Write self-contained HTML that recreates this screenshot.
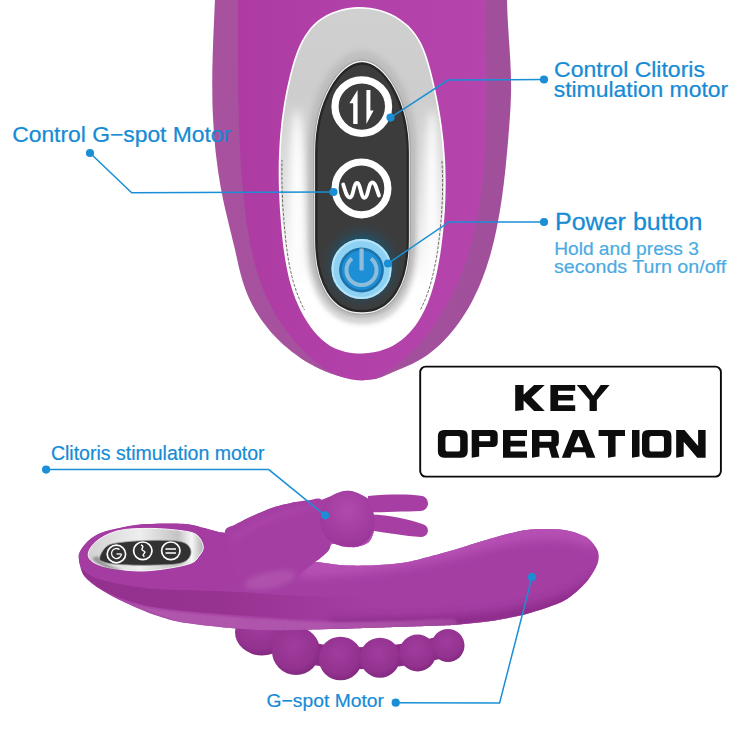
<!DOCTYPE html>
<html><head><meta charset="utf-8"><style>
html,body{margin:0;padding:0;background:#fff;}
body{width:750px;height:750px;position:relative;overflow:hidden;font-family:"Liberation Sans",sans-serif;}
svg{position:absolute;left:0;top:0;display:block;}
</style></head><body>
<svg width="750" height="750" viewBox="0 0 750 750">
<defs>
<linearGradient id="silver" x1="0" y1="0" x2="0" y2="1"><stop offset="0" stop-color="#d0d0d0"/><stop offset="0.25" stop-color="#cdcdcd"/><stop offset="0.55" stop-color="#e2e2e2"/><stop offset="0.8" stop-color="#ffffff"/><stop offset="1" stop-color="#ffffff"/></linearGradient>
<linearGradient id="silverSide" x1="0" y1="0" x2="1" y2="0"><stop offset="0" stop-color="#ffffff" stop-opacity="0"/><stop offset="0.1" stop-color="#ffffff" stop-opacity="0.95"/><stop offset="0.2" stop-color="#b0b0b0" stop-opacity="0.5"/><stop offset="0.3" stop-color="#ffffff" stop-opacity="0"/><stop offset="0.7" stop-color="#ffffff" stop-opacity="0"/><stop offset="0.8" stop-color="#b0b0b0" stop-opacity="0.5"/><stop offset="0.9" stop-color="#ffffff" stop-opacity="0.95"/><stop offset="1" stop-color="#ffffff" stop-opacity="0"/></linearGradient>
<linearGradient id="sideMask" x1="0" y1="0" x2="0" y2="1"><stop offset="0" stop-color="#fff" stop-opacity="0"/><stop offset="0.3" stop-color="#fff" stop-opacity="1"/><stop offset="0.7" stop-color="#fff" stop-opacity="1"/><stop offset="0.85" stop-color="#fff" stop-opacity="0"/></linearGradient>
<mask id="sm"><rect x="0" y="0" width="750" height="400" fill="url(#sideMask)"/></mask>
<radialGradient id="glow" cx="0.5" cy="0.5" r="0.5"><stop offset="0.55" stop-color="#1d5570"/><stop offset="1" stop-color="#3c3c3c" stop-opacity="0"/></radialGradient>
<linearGradient id="shaftG" x1="0" y1="0" x2="0" y2="1"><stop offset="0" stop-color="#a7419f"/><stop offset="0.4" stop-color="#a43c9f"/><stop offset="1" stop-color="#8c2d8a"/></linearGradient>
<linearGradient id="frontG" x1="0" y1="0" x2="0" y2="1"><stop offset="0" stop-color="#9f3a9c"/><stop offset="1" stop-color="#8e2f8b"/></linearGradient>
<radialGradient id="bead" cx="0.45" cy="0.38" r="0.68"><stop offset="0" stop-color="#a03c9e"/><stop offset="0.7" stop-color="#93328f"/><stop offset="1" stop-color="#7c267a"/></radialGradient>
<radialGradient id="headG" cx="0.5" cy="0.35" r="0.7"><stop offset="0" stop-color="#b04aad"/><stop offset="1" stop-color="#9a3598"/></radialGradient>
<filter id="blur4" x="-1" y="-1" width="3" height="3"><feGaussianBlur stdDeviation="4"/></filter>
<filter id="blur3" x="-0.5" y="-0.5" width="2" height="2"><feGaussianBlur stdDeviation="2.5"/></filter>
<filter id="blur1" x="-0.5" y="-0.5" width="2" height="2"><feGaussianBlur stdDeviation="1"/></filter>
</defs>
<defs><linearGradient id="bandG" gradientUnits="userSpaceOnUse" x1="212" y1="0" x2="511" y2="0"><stop offset="0" stop-color="#a8529f"/><stop offset="1" stop-color="#a04f9b"/></linearGradient></defs>
<path d="M507.0,-2.0 L507.1,3.6 L507.3,9.3 L507.5,15.0 L507.8,20.6 L508.1,26.3 L508.5,31.9 L508.8,37.6 L509.2,43.2 L509.6,48.9 L509.9,54.6 L510.3,60.2 L510.5,65.9 L510.8,71.5 L510.9,77.2 L511.0,82.9 L511.1,88.5 L511.0,94.2 L510.8,99.8 L510.6,105.5 L510.3,111.1 L509.9,116.8 L509.5,122.4 L509.1,128.1 L508.6,133.7 L508.2,139.4 L507.7,145.0 L507.2,150.6 L506.7,156.3 L506.1,161.9 L505.6,167.6 L505.0,173.2 L504.3,178.8 L503.7,184.4 L502.9,190.1 L502.2,195.7 L501.4,201.3 L500.5,206.9 L499.6,212.5 L498.6,218.1 L497.6,223.6 L496.5,229.2 L495.3,234.8 L494.1,240.3 L492.7,245.8 L491.3,251.3 L489.8,256.7 L488.1,262.1 L486.4,267.5 L484.5,272.8 L482.6,278.1 L480.5,283.3 L478.3,288.5 L475.9,293.6 L473.4,298.7 L470.8,303.7 L468.0,308.7 L465.0,313.5 L461.9,318.3 L458.7,323.0 L455.3,327.6 L451.7,332.0 L448.0,336.3 L444.1,340.5 L440.1,344.5 L435.9,348.2 L431.6,351.8 L427.1,355.2 L422.4,358.3 L417.6,361.1 L412.6,363.7 L407.4,366.1 L402.2,368.3 L396.8,370.5 L391.6,372.7 L386.4,375.1 L381.2,377.3 L375.8,378.9 L370.3,379.7 L364.6,379.8 L358.9,379.6 L353.3,379.0 L347.7,378.1 L342.2,376.9 L336.7,375.4 L331.4,373.7 L326.1,371.7 L320.9,369.4 L315.7,367.0 L310.7,364.3 L305.8,361.4 L301.0,358.4 L296.4,355.1 L291.8,351.7 L287.4,348.1 L283.1,344.4 L279.0,340.6 L275.0,336.5 L271.2,332.4 L267.6,328.1 L264.1,323.6 L260.8,319.0 L257.7,314.3 L254.8,309.5 L252.1,304.5 L249.6,299.4 L247.3,294.2 L245.3,288.9 L243.4,283.5 L241.7,278.1 L240.2,272.6 L238.9,267.2 L237.6,261.6 L236.4,256.1 L235.2,250.6 L233.9,245.1 L232.5,239.6 L231.2,234.1 L229.8,228.6 L228.5,223.1 L227.2,217.6 L225.9,212.1 L224.6,206.6 L223.4,201.1 L222.3,195.6 L221.2,190.0 L220.2,184.4 L219.3,178.8 L218.4,173.2 L217.6,167.6 L216.9,162.0 L216.2,156.4 L215.5,150.7 L215.0,145.1 L214.5,139.4 L214.0,133.8 L213.6,128.1 L213.3,122.5 L213.0,116.8 L212.7,111.1 L212.5,105.5 L212.4,99.8 L212.3,94.1 L212.3,88.5 L212.2,82.8 L212.3,77.2 L212.3,71.5 L212.4,65.9 L212.6,60.2 L212.7,54.6 L212.9,48.9 L213.1,43.3 L213.3,37.6 L213.5,32.0 L213.8,26.3 L214.0,20.7 L214.3,15.0 L214.5,9.3 L214.8,3.7 L215.0,-2.0Z" fill="url(#bandG)"/>
<defs><linearGradient id="faceG" gradientUnits="userSpaceOnUse" x1="238" y1="0" x2="486" y2="0"><stop offset="0" stop-color="#ad3ba2"/><stop offset="0.45" stop-color="#b140a8"/><stop offset="1" stop-color="#b545ac"/></linearGradient></defs>
<path d="M485.9,-1.9 L485.9,3.4 L485.8,8.6 L485.8,13.9 L485.8,19.3 L485.9,24.6 L485.9,30.0 L485.9,35.4 L486.0,40.8 L486.0,46.2 L486.1,51.6 L486.2,57.1 L486.2,62.5 L486.3,68.0 L486.3,73.5 L486.4,78.9 L486.4,84.4 L486.4,89.9 L486.4,95.4 L486.4,101.0 L486.3,106.5 L486.3,112.0 L486.2,117.5 L486.1,123.0 L485.9,128.5 L485.7,134.1 L485.5,139.6 L485.3,145.1 L485.0,150.6 L484.6,156.1 L484.3,161.6 L483.8,167.0 L483.3,172.5 L482.8,177.9 L482.2,183.4 L481.6,188.8 L480.9,194.2 L480.1,199.6 L479.3,205.0 L478.4,210.3 L477.4,215.7 L476.4,221.0 L475.3,226.3 L474.1,231.5 L472.8,236.8 L471.5,242.0 L470.0,247.2 L468.5,252.4 L466.9,257.5 L465.2,262.6 L463.4,267.7 L461.5,272.7 L459.5,277.7 L457.4,282.7 L455.3,287.6 L453.0,292.5 L450.6,297.4 L448.0,302.2 L445.4,307.0 L442.7,311.7 L439.8,316.4 L436.9,321.0 L433.8,325.6 L430.5,330.1 L427.2,334.5 L423.8,338.9 L420.2,343.1 L416.5,347.2 L412.7,351.2 L408.8,355.0 L404.7,358.7 L400.5,362.2 L396.3,365.5 L391.9,368.6 L387.4,371.6 L382.7,374.2 L377.9,376.6 L373.0,378.5 L367.9,379.8 L362.6,380.4 L357.1,380.2 L351.6,379.5 L346.2,378.3 L341.0,376.7 L336.0,374.7 L331.1,372.4 L326.4,369.7 L321.8,366.8 L317.5,363.6 L313.2,360.1 L309.1,356.5 L305.1,352.7 L301.3,348.8 L297.6,344.7 L294.0,340.5 L290.5,336.3 L287.1,331.9 L283.9,327.5 L280.8,323.0 L277.9,318.4 L275.1,313.8 L272.4,309.0 L269.9,304.3 L267.6,299.4 L265.4,294.5 L263.3,289.5 L261.3,284.4 L259.5,279.4 L257.8,274.2 L256.2,269.0 L254.8,263.8 L253.4,258.6 L252.2,253.3 L251.0,247.9 L249.9,242.6 L248.9,237.2 L248.0,231.8 L247.1,226.4 L246.3,221.0 L245.6,215.5 L244.9,210.1 L244.3,204.6 L243.7,199.2 L243.2,193.8 L242.7,188.3 L242.2,182.9 L241.7,177.4 L241.3,172.0 L241.0,166.6 L240.6,161.1 L240.3,155.7 L240.0,150.3 L239.7,144.9 L239.5,139.4 L239.3,134.0 L239.1,128.6 L238.9,123.2 L238.7,117.7 L238.6,112.3 L238.5,106.9 L238.4,101.5 L238.3,96.0 L238.2,90.6 L238.2,85.2 L238.1,79.7 L238.1,74.3 L238.1,68.9 L238.0,63.4 L238.0,58.0 L238.0,52.6 L238.0,47.1 L238.0,41.7 L238.0,36.2 L238.0,30.8 L238.0,25.3 L238.0,19.8 L238.0,14.4 L238.0,8.9 L238.0,3.4 L238.0,-2.0Z" fill="url(#faceG)"/>
<defs><clipPath id="innerClip"><path d="M359.0,7.8 L364.4,8.0 L369.9,8.5 L375.2,9.5 L380.5,10.8 L385.6,12.5 L390.5,14.6 L395.3,17.0 L399.8,19.8 L404.0,23.0 L408.0,26.4 L411.6,30.2 L414.9,34.4 L417.8,38.8 L420.4,43.4 L422.7,48.3 L424.7,53.4 L426.5,58.6 L428.1,63.9 L429.6,69.3 L431.0,74.6 L432.3,80.0 L433.5,85.3 L434.7,90.6 L435.8,95.8 L436.8,101.0 L437.8,106.2 L438.7,111.4 L439.6,116.6 L440.3,121.7 L441.1,126.9 L441.7,132.0 L442.3,137.1 L442.9,142.3 L443.3,147.4 L443.7,152.5 L444.1,157.7 L444.4,162.8 L444.6,167.9 L444.7,173.1 L444.8,178.3 L444.9,183.5 L444.8,188.7 L444.7,194.0 L444.6,199.2 L444.3,204.5 L444.1,209.9 L443.7,215.2 L443.3,220.7 L442.8,226.1 L442.3,231.6 L441.7,237.1 L441.0,242.7 L440.3,248.3 L439.5,254.0 L438.5,259.6 L437.5,265.2 L436.4,270.8 L435.2,276.3 L433.8,281.7 L432.3,287.1 L430.7,292.4 L428.9,297.5 L427.0,302.6 L424.9,307.4 L422.6,312.2 L420.2,316.7 L417.5,321.0 L414.7,325.2 L411.6,329.1 L408.4,332.8 L404.9,336.2 L401.1,339.3 L397.2,342.2 L393.0,344.7 L388.5,346.9 L383.7,348.8 L378.7,350.4 L373.5,351.5 L368.0,352.3 L362.4,352.7 L356.8,352.6 L351.3,352.1 L345.8,351.1 L340.4,349.6 L335.4,347.7 L330.6,345.2 L326.2,342.2 L322.0,338.7 L318.2,334.9 L314.7,330.9 L311.4,326.7 L308.4,322.3 L305.6,317.9 L303.0,313.3 L300.6,308.6 L298.4,303.8 L296.3,298.9 L294.5,294.0 L292.8,288.9 L291.3,283.8 L289.9,278.7 L288.7,273.4 L287.6,268.1 L286.6,262.8 L285.7,257.5 L284.9,252.1 L284.1,246.7 L283.5,241.3 L282.9,235.9 L282.4,230.5 L281.9,225.0 L281.5,219.7 L281.1,214.3 L280.7,208.9 L280.4,203.6 L280.1,198.2 L279.9,192.9 L279.7,187.6 L279.6,182.3 L279.5,177.0 L279.5,171.7 L279.5,166.4 L279.6,161.2 L279.8,155.9 L280.0,150.6 L280.3,145.4 L280.6,140.1 L281.0,134.9 L281.5,129.6 L282.0,124.3 L282.6,119.1 L283.3,113.8 L284.1,108.6 L284.9,103.3 L285.8,98.0 L286.8,92.8 L287.9,87.5 L289.1,82.2 L290.3,76.9 L291.6,71.6 L293.1,66.3 L294.6,61.1 L296.3,55.9 L298.2,50.9 L300.3,45.9 L302.6,41.2 L305.2,36.7 L308.1,32.4 L311.2,28.3 L314.7,24.6 L318.6,21.2 L322.9,18.2 L327.4,15.5 L332.3,13.3 L337.3,11.4 L342.6,9.9 L348.0,8.8 L353.5,8.1 L359.0,7.8Z"/></clipPath></defs>
<path d="M359.0,7.8 L364.4,8.0 L369.9,8.5 L375.2,9.5 L380.5,10.8 L385.6,12.5 L390.5,14.6 L395.3,17.0 L399.8,19.8 L404.0,23.0 L408.0,26.4 L411.6,30.2 L414.9,34.4 L417.8,38.8 L420.4,43.4 L422.7,48.3 L424.7,53.4 L426.5,58.6 L428.1,63.9 L429.6,69.3 L431.0,74.6 L432.3,80.0 L433.5,85.3 L434.7,90.6 L435.8,95.8 L436.8,101.0 L437.8,106.2 L438.7,111.4 L439.6,116.6 L440.3,121.7 L441.1,126.9 L441.7,132.0 L442.3,137.1 L442.9,142.3 L443.3,147.4 L443.7,152.5 L444.1,157.7 L444.4,162.8 L444.6,167.9 L444.7,173.1 L444.8,178.3 L444.9,183.5 L444.8,188.7 L444.7,194.0 L444.6,199.2 L444.3,204.5 L444.1,209.9 L443.7,215.2 L443.3,220.7 L442.8,226.1 L442.3,231.6 L441.7,237.1 L441.0,242.7 L440.3,248.3 L439.5,254.0 L438.5,259.6 L437.5,265.2 L436.4,270.8 L435.2,276.3 L433.8,281.7 L432.3,287.1 L430.7,292.4 L428.9,297.5 L427.0,302.6 L424.9,307.4 L422.6,312.2 L420.2,316.7 L417.5,321.0 L414.7,325.2 L411.6,329.1 L408.4,332.8 L404.9,336.2 L401.1,339.3 L397.2,342.2 L393.0,344.7 L388.5,346.9 L383.7,348.8 L378.7,350.4 L373.5,351.5 L368.0,352.3 L362.4,352.7 L356.8,352.6 L351.3,352.1 L345.8,351.1 L340.4,349.6 L335.4,347.7 L330.6,345.2 L326.2,342.2 L322.0,338.7 L318.2,334.9 L314.7,330.9 L311.4,326.7 L308.4,322.3 L305.6,317.9 L303.0,313.3 L300.6,308.6 L298.4,303.8 L296.3,298.9 L294.5,294.0 L292.8,288.9 L291.3,283.8 L289.9,278.7 L288.7,273.4 L287.6,268.1 L286.6,262.8 L285.7,257.5 L284.9,252.1 L284.1,246.7 L283.5,241.3 L282.9,235.9 L282.4,230.5 L281.9,225.0 L281.5,219.7 L281.1,214.3 L280.7,208.9 L280.4,203.6 L280.1,198.2 L279.9,192.9 L279.7,187.6 L279.6,182.3 L279.5,177.0 L279.5,171.7 L279.5,166.4 L279.6,161.2 L279.8,155.9 L280.0,150.6 L280.3,145.4 L280.6,140.1 L281.0,134.9 L281.5,129.6 L282.0,124.3 L282.6,119.1 L283.3,113.8 L284.1,108.6 L284.9,103.3 L285.8,98.0 L286.8,92.8 L287.9,87.5 L289.1,82.2 L290.3,76.9 L291.6,71.6 L293.1,66.3 L294.6,61.1 L296.3,55.9 L298.2,50.9 L300.3,45.9 L302.6,41.2 L305.2,36.7 L308.1,32.4 L311.2,28.3 L314.7,24.6 L318.6,21.2 L322.9,18.2 L327.4,15.5 L332.3,13.3 L337.3,11.4 L342.6,9.9 L348.0,8.8 L353.5,8.1 L359.0,7.8Z" fill="url(#silver)"/>
<g clip-path="url(#innerClip)">
<ellipse cx="297" cy="195" rx="7" ry="85" fill="#ffffff" filter="url(#blur4)"/>
<ellipse cx="432" cy="195" rx="6" ry="85" fill="#ffffff" filter="url(#blur4)"/>
<path d="M362,61.5 C384,61.5 409,100 409,152 L409,240 C409,285 392,313 362,313 C332,313 315,285 315,240 L315,152 C315,100 340,61.5 362,61.5 Z" fill="none" stroke="#b8b8b8" stroke-width="6" opacity="0.7" filter="url(#blur3)" transform="translate(362 188) scale(1.1 1.06) translate(-362 -188)"/>
</g>
<path d="M359.0,7.8 L364.4,8.0 L369.9,8.5 L375.2,9.5 L380.5,10.8 L385.6,12.5 L390.5,14.6 L395.3,17.0 L399.8,19.8 L404.0,23.0 L408.0,26.4 L411.6,30.2 L414.9,34.4 L417.8,38.8 L420.4,43.4 L422.7,48.3 L424.7,53.4 L426.5,58.6 L428.1,63.9 L429.6,69.3 L431.0,74.6 L432.3,80.0 L433.5,85.3 L434.7,90.6 L435.8,95.8 L436.8,101.0 L437.8,106.2 L438.7,111.4 L439.6,116.6 L440.3,121.7 L441.1,126.9 L441.7,132.0 L442.3,137.1 L442.9,142.3 L443.3,147.4 L443.7,152.5 L444.1,157.7 L444.4,162.8 L444.6,167.9 L444.7,173.1 L444.8,178.3 L444.9,183.5 L444.8,188.7 L444.7,194.0 L444.6,199.2 L444.3,204.5 L444.1,209.9 L443.7,215.2 L443.3,220.7 L442.8,226.1 L442.3,231.6 L441.7,237.1 L441.0,242.7 L440.3,248.3 L439.5,254.0 L438.5,259.6 L437.5,265.2 L436.4,270.8 L435.2,276.3 L433.8,281.7 L432.3,287.1 L430.7,292.4 L428.9,297.5 L427.0,302.6 L424.9,307.4 L422.6,312.2 L420.2,316.7 L417.5,321.0 L414.7,325.2 L411.6,329.1 L408.4,332.8 L404.9,336.2 L401.1,339.3 L397.2,342.2 L393.0,344.7 L388.5,346.9 L383.7,348.8 L378.7,350.4 L373.5,351.5 L368.0,352.3 L362.4,352.7 L356.8,352.6 L351.3,352.1 L345.8,351.1 L340.4,349.6 L335.4,347.7 L330.6,345.2 L326.2,342.2 L322.0,338.7 L318.2,334.9 L314.7,330.9 L311.4,326.7 L308.4,322.3 L305.6,317.9 L303.0,313.3 L300.6,308.6 L298.4,303.8 L296.3,298.9 L294.5,294.0 L292.8,288.9 L291.3,283.8 L289.9,278.7 L288.7,273.4 L287.6,268.1 L286.6,262.8 L285.7,257.5 L284.9,252.1 L284.1,246.7 L283.5,241.3 L282.9,235.9 L282.4,230.5 L281.9,225.0 L281.5,219.7 L281.1,214.3 L280.7,208.9 L280.4,203.6 L280.1,198.2 L279.9,192.9 L279.7,187.6 L279.6,182.3 L279.5,177.0 L279.5,171.7 L279.5,166.4 L279.6,161.2 L279.8,155.9 L280.0,150.6 L280.3,145.4 L280.6,140.1 L281.0,134.9 L281.5,129.6 L282.0,124.3 L282.6,119.1 L283.3,113.8 L284.1,108.6 L284.9,103.3 L285.8,98.0 L286.8,92.8 L287.9,87.5 L289.1,82.2 L290.3,76.9 L291.6,71.6 L293.1,66.3 L294.6,61.1 L296.3,55.9 L298.2,50.9 L300.3,45.9 L302.6,41.2 L305.2,36.7 L308.1,32.4 L311.2,28.3 L314.7,24.6 L318.6,21.2 L322.9,18.2 L327.4,15.5 L332.3,13.3 L337.3,11.4 L342.6,9.9 L348.0,8.8 L353.5,8.1 L359.0,7.8Z" fill="none" stroke="#ffffff" stroke-width="1.6"/>
<defs><clipPath id="sideClip"><rect x="0" y="160" width="750" height="150"/></clipPath></defs>
<path d="M359.0,13.0 L364.4,13.2 L369.6,13.7 L374.8,14.6 L379.9,15.9 L384.9,17.6 L389.7,19.6 L394.3,22.0 L398.7,24.7 L402.8,27.8 L406.7,31.2 L410.2,34.9 L413.4,38.9 L416.2,43.2 L418.7,47.7 L421.0,52.5 L422.9,57.4 L424.7,62.5 L426.3,67.6 L427.7,72.8 L429.0,78.0 L430.3,83.2 L431.5,88.4 L432.6,93.5 L433.7,98.6 L434.7,103.7 L435.7,108.7 L436.6,113.8 L437.4,118.8 L438.2,123.8 L438.9,128.8 L439.5,133.8 L440.1,138.7 L440.6,143.7 L441.1,148.7 L441.5,153.7 L441.8,158.7 L442.1,163.7 L442.3,168.7 L442.5,173.7 L442.6,178.7 L442.6,183.8 L442.5,188.8 L442.5,193.9 L442.3,199.1 L442.1,204.2 L441.8,209.4 L441.5,214.6 L441.1,219.9 L440.6,225.2 L440.1,230.5 L439.5,235.9 L438.8,241.4 L438.1,246.8 L437.3,252.3 L436.4,257.8 L435.4,263.2 L434.3,268.6 L433.1,274.0 L431.8,279.3 L430.4,284.5 L428.8,289.7 L427.0,294.7 L425.2,299.6 L423.1,304.3 L420.9,308.9 L418.5,313.3 L415.9,317.6 L413.2,321.6 L410.2,325.4 L407.0,328.9 L403.6,332.3 L400.0,335.3 L396.2,338.1 L392.1,340.5 L387.7,342.7 L383.1,344.5 L378.3,346.0 L373.2,347.1 L367.9,347.8 L362.5,348.2 L357.1,348.1 L351.6,347.6 L346.3,346.6 L341.2,345.2 L336.2,343.3 L331.5,340.9 L327.2,338.0 L323.2,334.6 L319.5,331.0 L316.0,327.1 L312.8,323.0 L309.8,318.8 L307.1,314.5 L304.5,310.1 L302.2,305.5 L300.1,300.9 L298.1,296.1 L296.3,291.3 L294.7,286.4 L293.2,281.4 L291.9,276.4 L290.7,271.3 L289.6,266.2 L288.6,261.0 L287.8,255.8 L287.0,250.5 L286.3,245.2 L285.7,240.0 L285.2,234.7 L284.7,229.4 L284.2,224.2 L283.8,218.9 L283.4,213.7 L283.0,208.5 L282.7,203.3 L282.5,198.1 L282.3,192.9 L282.1,187.7 L282.0,182.6 L281.9,177.4 L281.9,172.3 L281.9,167.2 L282.0,162.1 L282.1,156.9 L282.3,151.8 L282.6,146.7 L282.9,141.6 L283.3,136.5 L283.7,131.4 L284.3,126.3 L284.8,121.2 L285.5,116.1 L286.2,111.0 L287.0,105.9 L287.9,100.8 L288.9,95.7 L289.9,90.5 L291.1,85.4 L292.3,80.3 L293.6,75.1 L295.0,70.0 L296.5,64.9 L298.2,59.9 L300.0,54.9 L302.0,50.2 L304.3,45.5 L306.8,41.1 L309.6,36.9 L312.7,33.0 L316.1,29.4 L319.9,26.1 L324.0,23.1 L328.4,20.6 L333.1,18.3 L338.1,16.5 L343.2,15.0 L348.4,14.0 L353.7,13.3 L359.0,13.0Z" fill="none" stroke="#333" stroke-width="1" opacity="0.7" stroke-dasharray="3 1.5" clip-path="url(#sideClip)"/>
<path d="M362,61.5 C384,61.5 409,100 409,152 L409,240 C409,285 392,313 362,313 C332,313 315,285 315,240 L315,152 C315,100 340,61.5 362,61.5 Z" fill="none" stroke="#bdbdbd" stroke-width="11" filter="url(#blur1)"/>
<path d="M362,61.5 C384,61.5 409,100 409,152 L409,240 C409,285 392,313 362,313 C332,313 315,285 315,240 L315,152 C315,100 340,61.5 362,61.5 Z" fill="#3c3c3c" stroke="#a9a9a9" stroke-width="4"/>
<path d="M362,61.5 C384,61.5 409,100 409,152 L409,240 C409,285 392,313 362,313 C332,313 315,285 315,240 L315,152 C315,100 340,61.5 362,61.5 Z" fill="none" stroke="#f4f4f4" stroke-width="1.3"/>
<path d="M362,61.5 C384,61.5 409,100 409,152 L409,240 C409,285 392,313 362,313 C332,313 315,285 315,240 L315,152 C315,100 340,61.5 362,61.5 Z" fill="none" stroke="#262626" stroke-width="2.5" transform="translate(362 188) scale(0.972 0.985) translate(-362 -188)"/>
<ellipse cx="362" cy="266" rx="44" ry="46" fill="url(#glow)"/>
<circle cx="361.8" cy="106.6" r="26.8" fill="none" stroke="#fff" stroke-width="7.2"/>
<path d="M357.6,90 L357.6,124 L353.2,124 L353.2,103.3 L349.4,103.3 Z" fill="#fff"/>
<path d="M366.4,90 L370.4,90 L370.4,110.6 L373.6,110.6 L366.4,124 Z" fill="#fff"/>
<circle cx="361.5" cy="188.4" r="26.4" fill="none" stroke="#fff" stroke-width="7.2"/>
<path d="M343.2,184.5 C345.5,192 346.8,197.5 349.8,197.5 C353.5,197.5 353.5,183 357,183 C360.5,183 360.8,197.8 364.5,197.8 C368.2,197.8 368.5,182.3 372.2,182.3 C375.5,182.3 376.8,190 379,195.5" fill="none" stroke="#fff" stroke-width="3.8" stroke-linecap="round" stroke-linejoin="round"/>
<circle cx="361.5" cy="269" r="30" fill="#8dd2f3"/>
<circle cx="361.5" cy="269" r="29" fill="none" stroke="#b5e4fa" stroke-width="2"/>
<circle cx="361.5" cy="270" r="22.4" fill="#1d72aa"/>
<circle cx="361.5" cy="270" r="19.8" fill="#1c8fd6"/>
<path d="M352,258.5 A15,15 0 1 0 371,258.5" fill="none" stroke="#8fbcd9" stroke-width="4"/>
<rect x="359.4" y="248.5" width="4.3" height="22" rx="1" fill="#8fbcd9"/>
<ellipse cx="262" cy="632" rx="27" ry="23.5" fill="url(#bead)"/>
<line x1="296" y1="651" x2="340.5" y2="658.5" stroke="#8a2c87" stroke-width="22" stroke-linecap="round"/>
<line x1="340.5" y1="658.5" x2="380" y2="657.7" stroke="#8a2c87" stroke-width="22" stroke-linecap="round"/>
<line x1="380" y1="657.7" x2="417.6" y2="653" stroke="#8a2c87" stroke-width="22" stroke-linecap="round"/>
<line x1="417.6" y1="653" x2="448" y2="645.5" stroke="#8a2c87" stroke-width="22" stroke-linecap="round"/>
<circle cx="296" cy="651" r="24" fill="url(#bead)"/>
<circle cx="340.5" cy="658.5" r="21.8" fill="url(#bead)"/>
<circle cx="380" cy="657.7" r="20" fill="url(#bead)"/>
<circle cx="417.6" cy="653" r="18.5" fill="url(#bead)"/>
<circle cx="448" cy="645.5" r="16.5" fill="url(#bead)"/>
<defs><clipPath id="silClip"><path d="M78.8,554.8 C79.5,550.4 84.9,544.0 88.0,541.0 C91.1,538.0 95.9,534.5 102.0,532.4 C108.1,530.3 125.5,526.4 134.0,525.2 C142.5,524.0 158.5,523.7 166.0,523.6 C173.5,523.5 184.9,523.8 190.0,524.4 C195.1,525.0 199.7,526.9 204.3,528.0 C208.9,529.1 220.6,533.2 224.8,532.7 C229.0,532.2 232.0,526.7 236.0,524.3 C240.0,521.9 249.7,517.2 254.7,515.0 C259.7,512.8 268.3,509.1 273.3,507.5 C278.3,505.9 287.4,503.7 292.0,502.8 C296.6,501.9 304.3,500.9 308.0,500.6 C311.7,500.3 314.7,501.6 320.0,500.3 C325.3,499.0 341.1,490.8 347.6,490.7 C354.1,490.6 365.5,496.4 368.9,499.2 C372.3,502.0 372.5,508.0 373.2,512.0 C373.9,516.0 374.9,525.0 374.3,529.0 C373.7,533.0 371.6,539.5 368.9,541.9 C366.2,544.3 358.5,546.9 354.0,547.2 C349.5,547.5 337.9,544.3 334.8,544.0 C331.7,543.7 331.4,544.1 330.5,545.0 C329.6,545.9 330.1,548.4 328.4,550.4 C326.7,552.4 320.0,558.6 317.7,560.0 C315.4,561.4 307.9,560.3 311.3,561.0 C314.7,561.7 334.8,564.7 343.3,565.3 C351.8,565.9 366.8,565.7 375.3,565.3 C383.8,564.9 397.1,564.1 407.3,562.1 C417.5,560.1 441.1,553.6 452.0,550.5 C462.9,547.4 479.4,541.7 489.3,539.0 C499.2,536.3 516.6,531.1 526.6,529.9 C536.6,528.7 556.0,528.9 564.0,529.9 C572.0,530.9 581.9,534.6 586.4,537.3 C590.9,540.0 596.1,546.9 597.6,550.4 C599.1,553.9 599.1,559.3 597.6,563.5 C596.1,567.7 590.9,577.0 586.4,582.0 C581.9,587.0 572.0,596.5 564.0,600.8 C556.0,605.1 536.6,611.2 526.6,613.9 C516.6,616.6 499.2,619.8 489.3,621.3 C479.4,622.8 464.4,624.2 452.0,625.0 C439.6,625.8 410.9,626.5 396.0,627.0 C381.1,627.5 352.8,628.4 340.0,628.8 C327.2,629.2 310.7,629.8 300.0,630.0 C289.3,630.2 270.7,630.4 260.0,630.0 C249.3,629.6 230.7,628.1 220.0,627.0 C209.3,625.9 189.1,623.7 180.0,622.0 C170.9,620.3 159.2,616.5 152.0,614.0 C144.8,611.5 131.6,605.5 126.0,603.0 C120.4,600.5 114.3,597.4 110.0,595.0 C105.7,592.6 97.6,587.8 94.0,585.0 C90.4,582.2 84.8,578.0 82.8,574.0 C80.8,570.0 78.1,559.2 78.8,554.8Z"/></clipPath><linearGradient id="underFade" x1="0" y1="0" x2="1" y2="0"><stop offset="0" stop-color="#b058ad"/><stop offset="0.75" stop-color="#b058ad" stop-opacity="0.85"/><stop offset="1" stop-color="#b058ad" stop-opacity="0.5"/></linearGradient></defs>
<path d="M78.8,554.8 C79.5,550.4 84.9,544.0 88.0,541.0 C91.1,538.0 95.9,534.5 102.0,532.4 C108.1,530.3 125.5,526.4 134.0,525.2 C142.5,524.0 158.5,523.7 166.0,523.6 C173.5,523.5 184.9,523.8 190.0,524.4 C195.1,525.0 199.7,526.9 204.3,528.0 C208.9,529.1 220.6,533.2 224.8,532.7 C229.0,532.2 232.0,526.7 236.0,524.3 C240.0,521.9 249.7,517.2 254.7,515.0 C259.7,512.8 268.3,509.1 273.3,507.5 C278.3,505.9 287.4,503.7 292.0,502.8 C296.6,501.9 304.3,500.9 308.0,500.6 C311.7,500.3 314.7,501.6 320.0,500.3 C325.3,499.0 341.1,490.8 347.6,490.7 C354.1,490.6 365.5,496.4 368.9,499.2 C372.3,502.0 372.5,508.0 373.2,512.0 C373.9,516.0 374.9,525.0 374.3,529.0 C373.7,533.0 371.6,539.5 368.9,541.9 C366.2,544.3 358.5,546.9 354.0,547.2 C349.5,547.5 337.9,544.3 334.8,544.0 C331.7,543.7 331.4,544.1 330.5,545.0 C329.6,545.9 330.1,548.4 328.4,550.4 C326.7,552.4 320.0,558.6 317.7,560.0 C315.4,561.4 307.9,560.3 311.3,561.0 C314.7,561.7 334.8,564.7 343.3,565.3 C351.8,565.9 366.8,565.7 375.3,565.3 C383.8,564.9 397.1,564.1 407.3,562.1 C417.5,560.1 441.1,553.6 452.0,550.5 C462.9,547.4 479.4,541.7 489.3,539.0 C499.2,536.3 516.6,531.1 526.6,529.9 C536.6,528.7 556.0,528.9 564.0,529.9 C572.0,530.9 581.9,534.6 586.4,537.3 C590.9,540.0 596.1,546.9 597.6,550.4 C599.1,553.9 599.1,559.3 597.6,563.5 C596.1,567.7 590.9,577.0 586.4,582.0 C581.9,587.0 572.0,596.5 564.0,600.8 C556.0,605.1 536.6,611.2 526.6,613.9 C516.6,616.6 499.2,619.8 489.3,621.3 C479.4,622.8 464.4,624.2 452.0,625.0 C439.6,625.8 410.9,626.5 396.0,627.0 C381.1,627.5 352.8,628.4 340.0,628.8 C327.2,629.2 310.7,629.8 300.0,630.0 C289.3,630.2 270.7,630.4 260.0,630.0 C249.3,629.6 230.7,628.1 220.0,627.0 C209.3,625.9 189.1,623.7 180.0,622.0 C170.9,620.3 159.2,616.5 152.0,614.0 C144.8,611.5 131.6,605.5 126.0,603.0 C120.4,600.5 114.3,597.4 110.0,595.0 C105.7,592.6 97.6,587.8 94.0,585.0 C90.4,582.2 84.8,578.0 82.8,574.0 C80.8,570.0 78.1,559.2 78.8,554.8Z" fill="#a43ea3"/>
<g clip-path="url(#silClip)">
<path d="M300,578 C380,575 430,565 480,551 C530,538 570,536 592,550 L600,520 L300,520 Z" fill="#b650b3" filter="url(#blur4)"/>
<path d="M330,640 L600,640 L600,570 C580,592 540,606 480,613 C420,618 360,618 330,618 Z" fill="#8a2c87" filter="url(#blur4)" opacity="0.85"/>
<path d="M340,632 C420,630 470,627 520,618 C550,612 575,600 592,585" fill="none" stroke="#b25ab0" stroke-width="3" opacity="0.7" filter="url(#blur1)"/>
<path d="M100.0,590.0 C100.0,590.1 119.1,598.9 126.0,602.0 C132.9,605.1 144.8,610.3 152.0,613.0 C159.2,615.7 170.9,620.0 180.0,622.0 C189.1,624.0 209.3,626.8 220.0,628.0 C230.7,629.2 249.3,630.6 260.0,631.0 C270.7,631.4 289.3,631.1 300.0,631.0 C310.7,630.9 326.7,630.3 340.0,630.0 C353.3,629.7 385.1,629.0 400.0,628.5 C414.9,628.0 445.1,627.3 452.0,626.0 C458.9,624.7 458.9,619.7 452.0,619.0 C445.1,618.3 414.9,620.6 400.0,621.0 C385.1,621.4 353.3,622.0 340.0,622.0 C326.7,622.0 313.9,621.7 300.0,621.0 C286.1,620.3 250.7,618.1 236.0,617.0 C221.3,615.9 201.5,614.2 190.0,613.0 C178.5,611.8 158.5,609.6 150.0,608.0 C141.5,606.4 132.7,603.4 126.0,601.0 C119.3,598.6 100.0,589.9 100.0,590.0Z" fill="url(#underFade)" filter="url(#blur1)"/>
<defs><linearGradient id="bandFade" gradientUnits="userSpaceOnUse" x1="80" y1="0" x2="380" y2="0"><stop offset="0" stop-color="#94318f"/><stop offset="0.45" stop-color="#96328f"/><stop offset="1" stop-color="#9a3597" stop-opacity="0"/></linearGradient></defs>
<path d="M78.8,554.8 C78.6,554.1 79.2,564.6 81.2,567.6 C83.2,570.6 89.1,575.1 94.0,577.2 C98.9,579.3 110.5,582.1 118.0,583.6 C125.5,585.1 140.4,587.5 150.0,588.4 C159.6,589.3 178.0,589.5 190.0,590.0 C202.0,590.5 225.3,591.2 240.0,592.0 C254.7,592.8 284.0,595.2 300.0,596.0 C316.0,596.8 349.3,596.7 360.0,598.0 C370.7,599.3 380.0,603.2 380.0,606.0 C380.0,608.8 370.7,617.3 360.0,619.0 C349.3,620.7 316.5,619.5 300.0,619.0 C283.5,618.5 250.7,616.0 236.0,615.0 C221.3,614.0 201.5,612.6 190.0,611.5 C178.5,610.4 158.5,608.0 150.0,606.5 C141.5,605.0 131.3,601.7 126.0,600.0 C120.7,598.3 114.3,595.9 110.0,593.8 C105.7,591.7 97.6,587.0 94.0,584.2 C90.4,581.4 84.8,576.9 82.8,573.0 C80.8,569.1 79.0,555.5 78.8,554.8Z" fill="url(#bandFade)"/>
<path d="M78.8,554.8 C79.7,551.3 84.9,544.0 88.0,541.0 C91.1,538.0 95.9,534.5 102.0,532.4 C108.1,530.3 125.5,526.4 134.0,525.2 C142.5,524.0 158.5,523.7 166.0,523.6 C173.5,523.5 184.9,523.8 190.0,524.4 C195.1,525.0 199.7,526.9 204.3,528.0 C208.9,529.1 220.0,528.4 224.8,532.7 C229.6,537.0 239.3,552.6 240.0,560.0 C240.7,567.4 236.7,584.0 230.0,588.0 C223.3,592.0 200.7,589.9 190.0,590.0 C179.3,590.1 159.6,589.3 150.0,588.4 C140.4,587.5 125.5,585.1 118.0,583.6 C110.5,582.1 98.9,579.3 94.0,577.2 C89.1,575.1 83.2,570.6 81.2,567.6 C79.2,564.6 77.9,558.3 78.8,554.8Z" fill="#a43ca1"/>
</g>
<path d="M224.8,532.7 C224.9,526.3 232.0,526.7 236.0,524.3 C240.0,521.9 249.7,517.2 254.7,515.0 C259.7,512.8 268.3,509.1 273.3,507.5 C278.3,505.9 287.4,503.7 292.0,502.8 C296.6,501.9 304.0,500.9 308.0,500.6 C312.0,500.3 319.1,496.4 322.0,500.3 C324.9,504.2 328.9,524.0 330.0,530.0 C331.1,536.0 330.7,542.3 330.5,545.0 C330.3,547.7 330.1,548.4 328.4,550.4 C326.7,552.4 321.5,556.9 317.7,560.0 C313.9,563.1 304.4,570.3 300.0,574.0 C295.6,577.7 291.0,585.9 285.0,588.0 C279.0,590.1 261.7,592.1 255.0,590.0 C248.3,587.9 239.0,579.6 235.0,572.0 C231.0,564.4 224.7,539.1 224.8,532.7Z" fill="#a53ea3"/>
<ellipse cx="270" cy="580" rx="26" ry="8" fill="#b65eb3" opacity="0.6" filter="url(#blur3)" transform="rotate(-12 270 580)"/>
<path d="M232,540 C250,525 280,512 315,506" fill="none" stroke="#b04aad" stroke-width="6" opacity="0.5" filter="url(#blur3)"/>
<path d="M368,496 C390,494 410,494.2 420.5,495.8 A7.6,7.6 0 0 1 420.5,511 C405,511.5 385,512 368,512.5 Z" fill="#a63ea4"/>
<path d="M370,514.5 C390,515 410,519.5 423,524.2 A6.5,6.5 0 0 1 421,537 C405,536 388,533 371,530.5 Z" fill="#a63ea4"/>
<path d="M347.6,490.7 C362,490.7 374.3,504 374.3,521 C374.3,538 364,547.2 350,547.2 C334,547.2 320,537 320,520 C320,503 333,490.7 347.6,490.7 Z" fill="url(#headG)"/>
<defs><linearGradient id="bezG" x1="0" y1="0" x2="1" y2="0"><stop offset="0" stop-color="#d2d2d2"/><stop offset="0.45" stop-color="#eeeeee"/><stop offset="0.78" stop-color="#c4c4c4"/><stop offset="0.9" stop-color="#f7f7f7"/><stop offset="1" stop-color="#b0b0b0"/></linearGradient></defs>
<path d="M88.4,556.4 C87.3,552.4 90.7,546.3 95.6,542.0 C100.5,537.7 108.9,533.1 118.0,530.8 C127.1,528.5 139.3,528.4 150.0,528.4 C160.7,528.4 174.2,529.7 182.0,530.8 C189.8,531.9 193.2,532.4 196.8,535.0 C200.4,537.6 202.9,543.2 203.3,546.7 C203.7,550.2 201.2,553.2 199.0,556.0 C196.8,558.8 196.5,561.4 190.0,563.6 C183.5,565.9 169.3,568.3 160.0,569.5 C150.7,570.7 143.7,571.4 134.0,570.8 C124.3,570.2 109.6,568.4 102.0,566.0 C94.4,563.6 89.5,560.4 88.4,556.4Z" fill="url(#bezG)" stroke="#f8f8f8" stroke-width="1"/>
<path d="M92,558 C97,566 110,570 125,571 C110,566 100,562 98,556 Z" fill="#6a6a6a" opacity="0.6" filter="url(#blur1)"/>
<path d="M99.6,558.0 C99.9,555.5 102.9,549.5 106.0,547.0 C109.1,544.5 110.7,543.9 118.0,542.8 C125.3,541.7 139.3,540.5 150.0,540.4 C160.7,540.3 175.2,540.1 182.0,542.0 C188.8,543.9 191.0,548.5 191.0,552.0 C191.0,555.5 188.8,560.6 182.0,562.8 C175.2,565.0 160.7,564.9 150.0,565.2 C139.3,565.5 125.7,564.9 118.0,564.4 C110.3,563.9 107.1,563.1 104.0,562.0 C100.9,560.9 99.3,560.5 99.6,558.0Z" fill="#323232" stroke="#9a9a9a" stroke-width="0.8"/>
<ellipse cx="116.4" cy="554" rx="9.2" ry="8.8" fill="none" stroke="#fff" stroke-width="1.7"/>
<ellipse cx="142.8" cy="550.8" rx="9.2" ry="8.8" fill="none" stroke="#fff" stroke-width="1.7"/>
<ellipse cx="170.8" cy="550.8" rx="9.2" ry="8.8" fill="none" stroke="#fff" stroke-width="1.7"/>
<path d="M119.5,549.5 A5,5 0 1 0 121.5,554" fill="none" stroke="#fff" stroke-width="1.3"/><path d="M116.5,554 H121.5" stroke="#fff" stroke-width="1.3"/>
<path d="M141,545 C146,546.5 139,549 143.5,550.8 C148,552.6 140,554.6 144.5,556.5" fill="none" stroke="#fff" stroke-width="1.4"/>
<path d="M165.5,549 H176 M165.5,553 H176" stroke="#fff" stroke-width="1.5"/>
<polyline points="390.5,117.6 448.0,80.0 544.0,79.5" fill="none" stroke="#1a8fd6" stroke-width="1.5"/>
<circle cx="390.5" cy="117.6" r="4.1" fill="#1a8fd6"/>
<circle cx="544.0" cy="79.5" r="4.1" fill="#1a8fd6"/>
<polyline points="388.0,263.5 449.0,222.0 544.0,222.0" fill="none" stroke="#1a8fd6" stroke-width="1.5"/>
<circle cx="388.0" cy="263.5" r="4.1" fill="#1a8fd6"/>
<circle cx="544.0" cy="222.0" r="4.1" fill="#1a8fd6"/>
<polyline points="333.5,192.0 131.7,192.7 90.0,153.0" fill="none" stroke="#1a8fd6" stroke-width="1.5"/>
<circle cx="333.5" cy="192.0" r="4.1" fill="#1a8fd6"/>
<circle cx="90.0" cy="153.0" r="4.1" fill="#1a8fd6"/>
<polyline points="46.1,469.6 268.8,469.6 325.0,515.3" fill="none" stroke="#1a8fd6" stroke-width="1.5"/>
<circle cx="46.1" cy="469.6" r="4.1" fill="#1a8fd6"/>
<circle cx="325.0" cy="515.3" r="4.1" fill="#1a8fd6"/>
<polyline points="395.7,702.7 499.6,703.0 532.0,577.0" fill="none" stroke="#1a8fd6" stroke-width="1.5"/>
<circle cx="395.7" cy="702.7" r="4.1" fill="#1a8fd6"/>
<circle cx="532.0" cy="577.0" r="4.1" fill="#1a8fd6"/>
<rect x="420.2" y="366.6" width="300.7" height="110" rx="5.5" fill="#fff" stroke="#0a0a0a" stroke-width="1.9"/>
<path transform="translate(515.20,384.90) scale(0.2619,0.2610)" d="M0,0 H32 V38 L72,0 H113 L62,47 L113,100 H72 L32,60 V96 L0,100 Z" fill="#0d0d0d" fill-rule="evenodd"/>
<path transform="translate(550.40,384.90) scale(0.2851,0.2610)" d="M0,0 H87 V22 H27 V39 H80 V60 H27 V78 H87 V100 H0 Z" fill="#0d0d0d" fill-rule="evenodd"/>
<path transform="translate(576.80,384.90) scale(0.2603,0.2610)" d="M0,0 H34 L63,42 L92,0 H126 L77,58 V100 L49,100 V58 Z" fill="#0d0d0d" fill-rule="evenodd"/>
<path transform="translate(437.90,430.00) scale(0.2785,0.2770)" d="M22,0 H85 Q107,0 107,22 V78 Q107,100 85,100 H22 Q0,100 0,78 V22 Q0,0 22,0 Z M35,22 Q27,22 27,30 V70 Q27,78 35,78 H72 Q80,78 80,70 V30 Q80,22 72,22 Z" fill="#0d0d0d" fill-rule="evenodd"/>
<path transform="translate(471.70,430.00) scale(0.2766,0.2770)" d="M0,0 H76 Q94,0 94,18 V43 Q94,61 76,61 H27 V96 L0,100 Z M27,22 H67 V41 H27 Z" fill="#0d0d0d" fill-rule="evenodd"/>
<path transform="translate(503.00,430.00) scale(0.2759,0.2770)" d="M0,0 H87 V22 H27 V39 H80 V60 H27 V78 H87 V100 H0 Z" fill="#0d0d0d" fill-rule="evenodd"/>
<path transform="translate(532.00,430.00) scale(0.2768,0.2770)" d="M0,0 H79 Q97,0 97,18 V42 Q97,56 86,60 L99,100 H71 L61,64 H27 V96 L0,100 Z M27,22 H70 V42 H27 Z" fill="#0d0d0d" fill-rule="evenodd"/>
<path transform="translate(561.80,430.00) scale(0.2777,0.2770)" d="M0,100 L40,0 H81 L121,100 H90 L84,80 H37 L31,100 Z M44,62 H77 L60.5,22 Z" fill="#0d0d0d" fill-rule="evenodd"/>
<path transform="translate(598.60,430.00) scale(0.2779,0.2770)" d="M0,0 H95 V22 H61 V96 L34,100 V22 H0 Z" fill="#0d0d0d" fill-rule="evenodd"/>
<path transform="translate(632.00,430.00) scale(0.2778,0.2770)" d="M0,0 H27 V96 L0,100 Z" fill="#0d0d0d" fill-rule="evenodd"/>
<path transform="translate(642.00,430.00) scale(0.2748,0.2770)" d="M22,0 H85 Q107,0 107,22 V78 Q107,100 85,100 H22 Q0,100 0,78 V22 Q0,0 22,0 Z M35,22 Q27,22 27,30 V70 Q27,78 35,78 H72 Q80,78 80,70 V30 Q80,22 72,22 Z" fill="#0d0d0d" fill-rule="evenodd"/>
<path transform="translate(676.20,430.00) scale(0.2774,0.2770)" d="M0,0 H30 L79,58 V0 H106 V100 H76 L27,42 V96 L0,100 Z" fill="#0d0d0d" fill-rule="evenodd"/>
<g font-family="Liberation Sans, sans-serif">
<text stroke-width="0.24" transform="translate(554.10,76.60) scale(1.0464,1)" font-size="22.00" fill="#168bd5" stroke="#168bd5">Control Clitoris</text>
<text stroke-width="0.24" transform="translate(553.70,97.40) scale(1.0422,1)" font-size="22.00" fill="#168bd5" stroke="#168bd5">stimulation motor</text>
<text stroke-width="0.26" transform="translate(555.00,230.10) scale(1.0433,1)" font-size="24.00" fill="#168bd5" stroke="#168bd5">Power button</text>
<text stroke-width="0.19" transform="translate(554.20,254.60) scale(1.0883,1)" font-size="17.60" fill="#4aabe3" stroke="#4aabe3">Hold and press 3</text>
<text stroke-width="0.19" transform="translate(554.00,273.30) scale(1.1163,1)" font-size="17.60" fill="#4aabe3" stroke="#4aabe3">seconds Turn on/off</text>
<text stroke-width="0.24" transform="translate(12.20,141.90) scale(1.0631,1)" font-size="21.50" fill="#168bd5" stroke="#168bd5">Control G&#8722;spot Motor</text>
<text stroke-width="0.21" transform="translate(50.90,459.80) scale(1.0018,1)" font-size="19.50" fill="#168bd5" stroke="#168bd5">Clitoris stimulation motor</text>
<text stroke-width="0.20" transform="translate(266.60,707.00) scale(1.0429,1)" font-size="18.50" fill="#168bd5" stroke="#168bd5">G&#8722;spot Motor</text>
</g>
</svg>
</body></html>
